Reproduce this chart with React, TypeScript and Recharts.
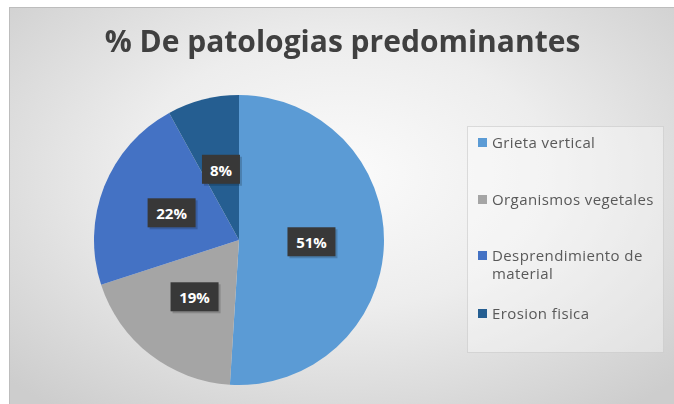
import React from "react";
import { PieChart, Pie, Cell, Legend } from "recharts";

const categories = ["Grieta vertical", "Organismos vegetales", "Desprendimiento de material", "Erosion fisica"];
const values = [51, 19, 22, 8];
const colors = ["#5B9BD5", "#A5A5A5", "#4472C4", "#255E91"];

const data = categories.map((name, i) => ({ name, value: values[i] }));

const RAD = Math.PI / 180;

function PctLabel({ cx, cy, midAngle, outerRadius, percent }: any) {
  const r = outerRadius * 0.5;
  const x = cx + r * Math.cos(-midAngle * RAD);
  const y = cy + r * Math.sin(-midAngle * RAD);
  const txt = `${Math.round(percent * 100)}%`;
  const w = txt.length * 10 + 18;
  return (
    <g>
      <rect x={x - w / 2 + 2} y={y - 13} width={w} height={29} fill="#000" opacity={0.18} />
      <rect x={x - w / 2} y={y - 15} width={w} height={29} fill="#383838" />
      <text x={x} y={y} fill="#fff" fontSize={15} fontWeight={700} fontFamily="'Open Sans', sans-serif"
        textAnchor="middle" dominantBaseline="central">
        {txt}
      </text>
    </g>
  );
}

function LegendBox() {
  const gaps = [6, 39, 38, 22];
  return (
    <div style={{
      width: 197, height: 227, boxSizing: "border-box",
      background: "rgba(255,255,255,0.35)", border: "1px solid rgba(190,190,190,0.5)",
      paddingLeft: 10, fontFamily: "'Open Sans', sans-serif", fontSize: 15, letterSpacing: 0.4, color: "#595959",
    }}>
      {categories.map((name, i) => (
        <div key={name} style={{ display: "flex", alignItems: "flex-start", marginTop: gaps[i], lineHeight: "18px" }}>
          <span style={{ width: 9, height: 9, background: colors[i], marginTop: 5, marginRight: 5, flexShrink: 0 }} />
          <span style={{ width: 168 }}>{name}</span>
        </div>
      ))}
    </div>
  );
}

export default function App() {
  return (
    <div style={{ position: "fixed", left: 0, top: 0, width: 674, height: 404, background: "#fff" }}>
      <div style={{
        position: "absolute", left: 9, top: 7, width: 665, height: 397,
        borderLeft: "1px solid #bdbdbd", borderTop: "1px solid #bdbdbd", boxSizing: "border-box",
        background: "radial-gradient(ellipse 70% 75% at 50% 42%, #fbfbfb 0%, #ededed 45%, #cdcdcd 100%)",
      }}>
        <div style={{
          position: "absolute", left: 0, top: 13, width: 665, textAlign: "center", lineHeight: 1.362,
          fontFamily: "'Open Sans', sans-serif", fontWeight: 700, fontSize: 30, color: "#404040",
        }}>
          % De patologias predominantes
        </div>
        <PieChart width={664} height={396} margin={{ top: 0, right: 0, bottom: 0, left: 0 }}
          style={{ position: "absolute", left: 0, top: 0 }}>
          <Pie
            data={data} dataKey="value" nameKey="name"
            cx={229} cy={232} outerRadius={145}
            startAngle={90} endAngle={-270}
            stroke="none" label={PctLabel} labelLine={false}
            isAnimationActive={false}
          >
            {data.map((d, i) => <Cell key={d.name} fill={colors[i]} />)}
          </Pie>
          <Legend content={<LegendBox />} wrapperStyle={{ left: 457, top: 118, width: 197, height: 227 }} />
        </PieChart>
      </div>
    </div>
  );
}
